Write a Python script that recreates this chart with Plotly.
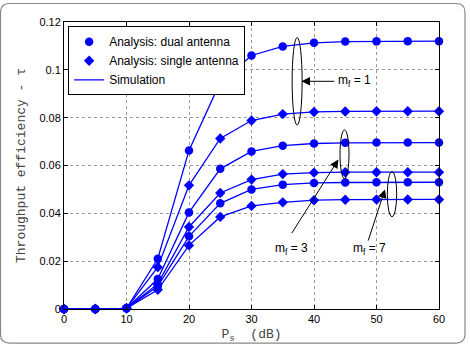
import plotly.graph_objects as go

x_db = [0, 5, 10, 15, 20, 25, 30, 35, 40, 45, 50, 55, 60]
dual_mf1 = [0, 0, 0.0003, 0.0210, 0.0663, 0.0948, 0.1060, 0.1098, 0.1113, 0.1118, 0.1119, 0.1120, 0.1120]
single_mf1 = [0, 0, 0.0003, 0.0175, 0.0517, 0.0713, 0.0788, 0.0815, 0.0824, 0.0826, 0.0827, 0.0827, 0.0827]
dual_mf3 = [0, 0, 0.0003, 0.0125, 0.0404, 0.0586, 0.0659, 0.0683, 0.0692, 0.0695, 0.0696, 0.0696, 0.0696]
single_mf3 = [0, 0, 0.0003, 0.0105, 0.0343, 0.0485, 0.0541, 0.0564, 0.0570, 0.0572, 0.0572, 0.0572, 0.0572]
dual_mf7 = [0, 0, 0.0003, 0.0095, 0.0304, 0.0442, 0.0500, 0.0520, 0.0527, 0.0529, 0.0530, 0.0530, 0.0530]
single_mf7 = [0, 0, 0.0003, 0.0080, 0.0266, 0.0385, 0.0431, 0.0446, 0.0455, 0.0457, 0.0458, 0.0458, 0.0458]

legend_names = ["Analysis: dual antenna", "Analysis: single antenna", "Simulation"]
x_ticks = [0, 10, 20, 30, 40, 50, 60]
y_ticks = [0, 0.02, 0.04, 0.06, 0.08, 0.1, 0.12]
y_tick_text = ["0", "0.02", "0.04", "0.06", "0.08", "0.1", "0.12"]

BLUE = "#0000ff"
series = [(dual_mf1, "circle"), (single_mf1, "diamond"), (dual_mf3, "circle"),
          (single_mf3, "diamond"), (dual_mf7, "circle"), (single_mf7, "diamond")]

fig = go.Figure()
for ys, sym in series:
    fig.add_trace(go.Scatter(
        x=x_db, y=ys, mode="lines+markers", showlegend=False, cliponaxis=False,
        line=dict(color=BLUE, width=1.3),
        marker=dict(symbol=sym, size=8.5 if sym == "circle" else 8, color=BLUE,
                    line=dict(width=0))))

# legend-only entries
fig.add_trace(go.Scatter(x=[None], y=[None], mode="markers", name=legend_names[0],
                         marker=dict(symbol="circle", size=8.5, color=BLUE)))
fig.add_trace(go.Scatter(x=[None], y=[None], mode="markers", name=legend_names[1],
                         marker=dict(symbol="diamond", size=8, color=BLUE)))
fig.add_trace(go.Scatter(x=[None], y=[None], mode="lines", name=legend_names[2],
                         line=dict(color=BLUE, width=1.3)))

# ellipses grouping curves
ellipses = [(36.5, 38.1, 0.0769, 0.1135), (44.16, 45.6, 0.0545, 0.0749), (51.73, 53.23, 0.0386, 0.0574)]
for x0, x1, y0, y1 in ellipses:
    fig.add_shape(type="circle", xref="x", yref="y", x0=x0, x1=x1, y0=y0, y1=y1,
                  line=dict(color="black", width=1))

label_font = dict(family="Liberation Sans, Arial", size=12, color="black")
# arrows: (tip x, tip y, tail x, tail y)
arrows = [(38.0, 0.0952, 43.5, 0.0952), (43.9, 0.0625, 36.3, 0.0311), (51.35, 0.0500, 48.6, 0.0280)]
for tx, ty, sx, sy in arrows:
    fig.add_annotation(x=tx, y=ty, ax=sx, ay=sy, xref="x", yref="y", axref="x", ayref="y",
                       text="", showarrow=True, arrowhead=2, arrowsize=1.7, arrowwidth=1,
                       arrowcolor="black")
fig.add_annotation(x=43.5, y=0.0952, xref="x", yref="y", text="m<sub>f</sub> = 1",
                   showarrow=False, xanchor="left", yanchor="middle", font=label_font)
fig.add_annotation(x=36.4, y=0.0250, xref="x", yref="y", text="m<sub>f</sub> = 3",
                   showarrow=False, xanchor="center", yanchor="middle", font=label_font)
fig.add_annotation(x=48.9, y=0.0250, xref="x", yref="y", text="m<sub>f</sub> = 7",
                   showarrow=False, xanchor="center", yanchor="middle", font=label_font)

# rounded image border (decorative frame)
L, T, W, H = 64, 22, 375, 295
def px(xp): return (xp - L) / W
def py(yp): return (T + H - yp) / H
x0b, y0b, x1b, y1b, r = 0.5, 3, 465, 352, 9
path = (f"M {px(x0b + r)},{py(y0b)} L {px(x1b - r)},{py(y0b)} "
        f"Q {px(x1b)},{py(y0b)} {px(x1b)},{py(y0b + r)} "
        f"L {px(x1b)},{py(y1b - r)} Q {px(x1b)},{py(y1b)} {px(x1b - r)},{py(y1b)} "
        f"L {px(x0b + r)},{py(y1b)} Q {px(x0b)},{py(y1b)} {px(x0b)},{py(y1b - r)} "
        f"L {px(x0b)},{py(y0b + r)} Q {px(x0b)},{py(y0b)} {px(x0b + r)},{py(y0b)} Z")
fig.add_shape(type="path", xref="paper", yref="paper", path=path,
              line=dict(color="#888888", width=1.2), layer="below")

axis_common = dict(showline=True, linecolor="black", linewidth=1, mirror="allticks",
                   ticks="inside", ticklen=4, tickcolor="black",
                   showgrid=True, gridcolor="#999999", griddash="dot", gridwidth=1,
                   zeroline=False,
                   tickfont=dict(family="Liberation Sans, Arial", size=11, color="black"))

fig.update_xaxes(range=[0, 60], tickvals=x_ticks, **axis_common,
                 title=dict(text="P<sub>s</sub>  (dB)", standoff=4,
                            font=dict(family="Liberation Mono, Courier New", size=13, color="#444444")))
fig.update_yaxes(range=[0, 0.12], tickvals=y_ticks, ticktext=y_tick_text, **axis_common,
                 title=dict(text="Throughput efficiency - τ", standoff=10,
                            font=dict(family="Liberation Mono, Courier New", size=13, color="#444444")))

fig.update_layout(
    width=470, height=350,
    margin=dict(l=64, r=31, t=22, b=33),
    paper_bgcolor="white", plot_bgcolor="white",
    showlegend=True,
    legend=dict(x=0.011, y=0.985, xanchor="left", yanchor="top",
                bgcolor="white", bordercolor="black", borderwidth=1,
                font=dict(family="Liberation Sans, Arial", size=12, color="black"),
                tracegroupgap=0, itemwidth=30),
)

fig.write_html("out.html")
